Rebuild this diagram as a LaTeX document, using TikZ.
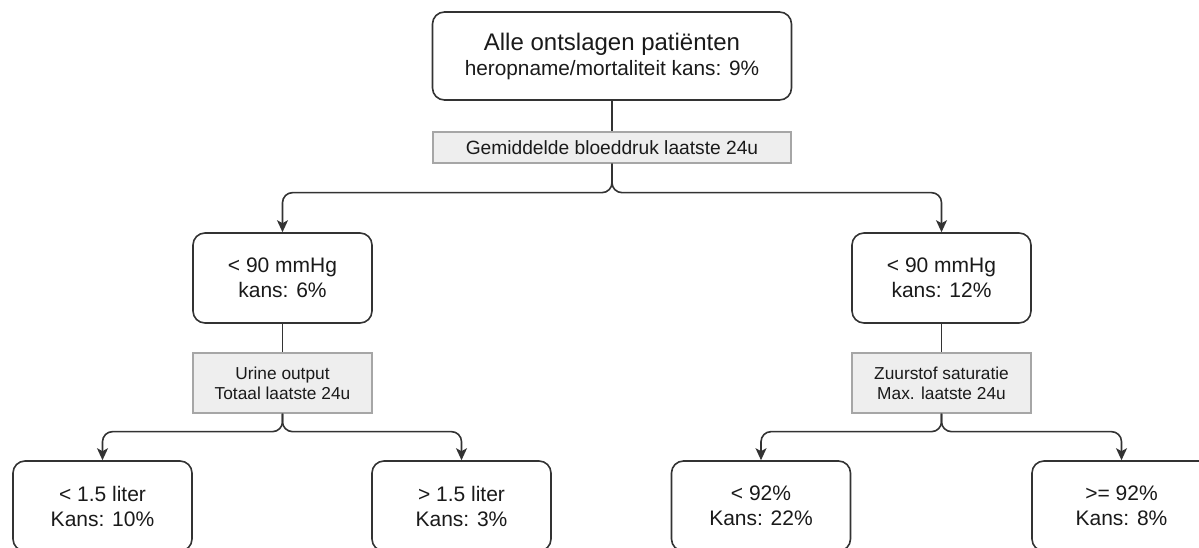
\documentclass[tikz,border=0pt]{standalone}
\usepackage{fontspec}
\setmainfont{Liberation Sans}
\usetikzlibrary{arrows.meta,positioning}

\definecolor{boxline}{HTML}{333333}
\definecolor{splitline}{HTML}{A6A6A6}
\definecolor{splitfill}{HTML}{EEEEEE}
\definecolor{textcol}{HTML}{1A1A1A}

\begin{document}
\begin{tikzpicture}[
  x=1pt, y=-1pt,
  every node/.style={
    align=center, inner sep=0pt, text=textcol,
  },
  outcome/.style={
    draw=boxline, line width=1.6pt, rounded corners=12pt, fill=white,
    minimum width=179pt, minimum height=90pt,
    font=\fontsize{21}{25}\selectfont
  },
  splitbox/.style={
    draw=splitline, line width=1.3pt, fill=splitfill,
    minimum width=179pt, minimum height=60pt,
    font=\fontsize{17.3}{20}\selectfont
  },
  link/.style={
    draw=boxline, line width=1.6pt
  },
  branch/.style={
    link, rounded corners=10pt,
    -{Stealth[length=12pt, width=11pt, inset=3pt]}
  }
  ]
  \useasboundingbox (0,0) rectangle (1199,548);
  \clip (0,0) rectangle (1199,548);

  % root and first split
  \node[outcome, minimum width=359pt, minimum height=88pt] (root) at (612,56)
    {{\fontsize{24}{29}\selectfont Alle ontslagen patiënten}\\
     {\fontsize{20.8}{29}\selectfont heropname/mortaliteit kans: 9\%}};
  \node[splitbox, minimum width=358pt, minimum height=31pt,
    font=\fontsize{19.2}{22}\selectfont] (bp) at (612,147.5)
    {Gemiddelde bloeddruk laatste 24u};

  % second level
  \node[outcome] (bplow) at (282.5,278) {< 90 mmHg\\kans: 6\%};
  \node[outcome] (bphigh) at (941.5,278) {< 90 mmHg\\kans: 12\%};
  \node[splitbox] (urine) at (282.5,383) {Urine output\\Totaal laatste 24u};
  \node[splitbox] (sat) at (941.5,383) {Zuurstof saturatie\\Max. laatste 24u};

  % leaves
  \node[outcome] (urlow) at (102.5,506) {< 1.5 liter\\Kans: 10\%};
  \node[outcome] (urhigh) at (461.5,506) {> 1.5 liter\\Kans: 3\%};
  \node[outcome] (satlow) at (761,506) {< 92\%\\Kans: 22\%};
  \node[outcome] (sathigh) at (1121.5,506) {>= 92\%\\Kans: 8\%};

  % connectors
  \draw[link] (root) -- (bp);
  \draw[link] (bplow) -- (urine);
  \draw[link] (bphigh) -- (sat);
  \draw[branch] (bp.south) -- ++(0,29) -| (bplow.north);
  \draw[branch] (bp.south) -- ++(0,29) -| (bphigh.north);
  \draw[branch] (urine.south) -- ++(0,18) -| (urlow.north);
  \draw[branch] (urine.south) -- ++(0,18) -| (urhigh.north);
  \draw[branch] (sat.south) -- ++(0,18) -| (satlow.north);
  \draw[branch] (sat.south) -- ++(0,18) -| (sathigh.north);
\end{tikzpicture}
\end{document}
